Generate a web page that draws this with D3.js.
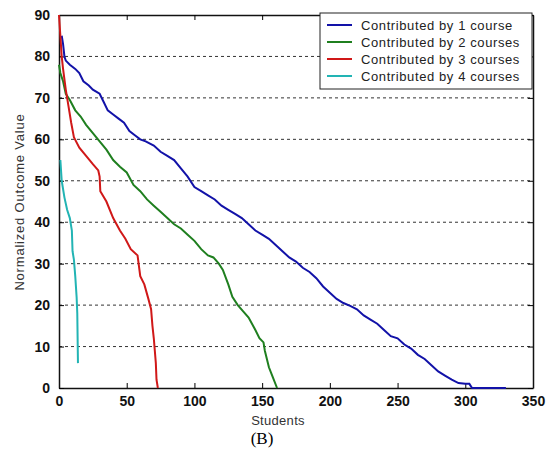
<!DOCTYPE html>
<html>
<head>
<meta charset="utf-8">
<script src="https://cdn.jsdelivr.net/npm/d3@7"></script>
<style>
  body { margin: 0; background: #fff; }
  svg { display: block; }
</style>
</head>
<body>
<svg id="chart" width="554" height="454"></svg>
<script>
// data: [students, normalized outcome value]
const oneCourse = [[2,85],[3,83],[4,80],[5,79],[8,78],[12,77],[15,76],[18,74],[22,73],[25,72],[30,71],[33,69],[36,67],[40,66],[44,65],[48,64],[52,62],[56,61],[60,60],[64,59.5],[70,58.5],[75,57],[80,56],[85,55],[90,53],[95,51],[100,48.5],[105,47.5],[110,46.5],[115,45.5],[120,44],[125,43],[130,42],[135,41],[140,39.5],[145,38],[150,37],[155,36],[160,34.5],[165,33],[170,31.5],[175,30.5],[180,29],[185,28],[190,26.5],[195,24.5],[200,23],[205,21.5],[210,20.5],[215,19.8],[220,19],[225,17.5],[230,16.5],[235,15.5],[240,14],[245,12.5],[250,12],[255,10.5],[260,9.5],[265,8],[270,7],[275,5.5],[280,4],[285,3],[290,2],[295,1.2],[300,1],[303,1],[305,0],[330,0]];
const twoCourses = [[0,78],[1,76],[3,74],[5,71],[8,69.5],[12,67],[16,65.5],[20,63.5],[25,61.5],[30,59.5],[35,57.5],[40,55],[45,53.4],[50,52],[55,49],[60,47.5],[65,45.5],[70,44],[75,42.5],[80,41],[85,39.5],[90,38.5],[95,37],[100,35.5],[105,33.5],[110,32],[114,31.5],[118,30],[121,28.5],[125,25],[128,22],[132,20],[136,18.5],[140,17],[145,14],[148,12],[151,11],[152,9],[155,5],[158,2.5],[161,0]];
const threeCourses = [[0,90],[1,85],[2,80],[3,77],[5,72],[7,68],[9,64],[11,60.5],[15,58],[20,56],[25,54],[29,52.5],[30,51],[30.5,47.5],[35,45],[40,41],[45,38],[49,36],[53,33.5],[58,32],[60,27],[63,25],[66,21.5],[68,19],[69,15],[70,12],[71.5,6],[72,2],[73,0]];
const fourCourses = [[1,55],[2,50],[4,46],[6,43],[8,41],[9.5,38],[10,33],[11,31],[12,27],[13,22],[13.5,18],[14,6]];

const seriesNames = ["Contributed by 1 course", "Contributed by 2 courses", "Contributed by 3 courses", "Contributed by 4 courses"];
const seriesColors = ["#1212a8", "#1f7f1f", "#d01818", "#22b4b4"];
const xTicks = [0, 50, 100, 150, 200, 250, 300, 350];
const yTicks = [0, 10, 20, 30, 40, 50, 60, 70, 80, 90];

const allSeries = [oneCourse, twoCourses, threeCourses, fourCourses];

const svg = d3.select("#chart");
const plotLeft = 59, plotRight = 533, plotTop = 15, plotBottom = 388;

const x = d3.scaleLinear().domain([0, 350]).range([plotLeft, plotRight]);
const y = d3.scaleLinear().domain([0, 90]).range([plotBottom, plotTop]);

// dashed horizontal grid
svg.append("g")
  .selectAll("line")
  .data(yTicks.filter(d => d > 0 && d < 90))
  .enter().append("line")
  .attr("x1", plotLeft).attr("x2", plotRight)
  .attr("y1", d => y(d)).attr("y2", d => y(d))
  .attr("stroke", "#333")
  .attr("stroke-width", 1)
  .attr("stroke-dasharray", "3,3");

// axes (ticks point inward like matlab)
svg.append("g")
  .attr("transform", `translate(0,${plotBottom})`)
  .call(d3.axisBottom(x).tickValues(xTicks).tickSize(-5).tickPadding(8).tickSizeOuter(0))
  .call(g => g.selectAll("text").attr("font-family", "Arial, 'Liberation Sans', sans-serif")
    .attr("font-size", 14).attr("font-weight", "bold").attr("fill", "#111"));

svg.append("g")
  .attr("transform", `translate(${plotLeft},0)`)
  .call(d3.axisLeft(y).tickValues(yTicks).tickSize(-5).tickPadding(9).tickSizeOuter(0))
  .call(g => g.selectAll("text").attr("font-family", "Arial, 'Liberation Sans', sans-serif")
    .attr("font-size", 14).attr("font-weight", "bold").attr("fill", "#111"));

svg.append("g")
  .attr("transform", `translate(0,${plotTop})`)
  .call(d3.axisTop(x).tickValues(xTicks).tickSize(-5).tickFormat("").tickSizeOuter(0));

svg.append("g")
  .attr("transform", `translate(${plotRight},0)`)
  .call(d3.axisRight(y).tickValues(yTicks).tickSize(-5).tickFormat("").tickSizeOuter(0));

svg.selectAll(".domain").attr("stroke", "#111").attr("stroke-width", 1.5);

// lines
const line = d3.line()
  .x(d => x(d[0]))
  .y(d => y(d[1]));

svg.append("g")
  .selectAll("path")
  .data(allSeries)
  .enter().append("path")
  .attr("d", line)
  .attr("fill", "none")
  .attr("stroke", (d, i) => seriesColors[i])
  .attr("stroke-width", 2);

// legend
const legend = svg.append("g");
legend.append("rect")
  .attr("x", 320).attr("y", 13)
  .attr("width", 212).attr("height", 76)
  .attr("fill", "#fff").attr("stroke", "#222").attr("stroke-width", 1);

const items = legend.selectAll("g.item")
  .data(seriesNames)
  .enter().append("g")
  .attr("transform", (d, i) => `translate(0,${25 + i * 17})`);

items.append("line")
  .attr("x1", 327).attr("x2", 352)
  .attr("stroke", (d, i) => seriesColors[i])
  .attr("stroke-width", 2);

items.append("text")
  .attr("x", 361).attr("dy", "0.35em")
  .attr("font-family", "Arial, 'Liberation Sans', sans-serif")
  .attr("font-size", 13)
  .attr("letter-spacing", "0.6px")
  .attr("fill", "#222")
  .text(d => d);

// axis titles
svg.append("text")
  .attr("x", 278).attr("y", 425)
  .attr("text-anchor", "middle")
  .attr("font-family", "Arial, 'Liberation Sans', sans-serif")
  .attr("font-size", 13).attr("letter-spacing", "0.3px").attr("fill", "#333")
  .text("Students");

svg.append("text")
  .attr("transform", "translate(24,202) rotate(-90)")
  .attr("text-anchor", "middle")
  .attr("font-family", "Arial, 'Liberation Sans', sans-serif")
  .attr("font-size", 13).attr("letter-spacing", "0.8px").attr("fill", "#333")
  .text("Normalized Outcome Value");

svg.append("text")
  .attr("x", 262).attr("y", 444)
  .attr("text-anchor", "middle")
  .attr("font-family", "'Times New Roman', 'Liberation Serif', serif")
  .attr("font-size", 17).attr("fill", "#000")
  .text("(B)");
</script>
</body>
</html>
